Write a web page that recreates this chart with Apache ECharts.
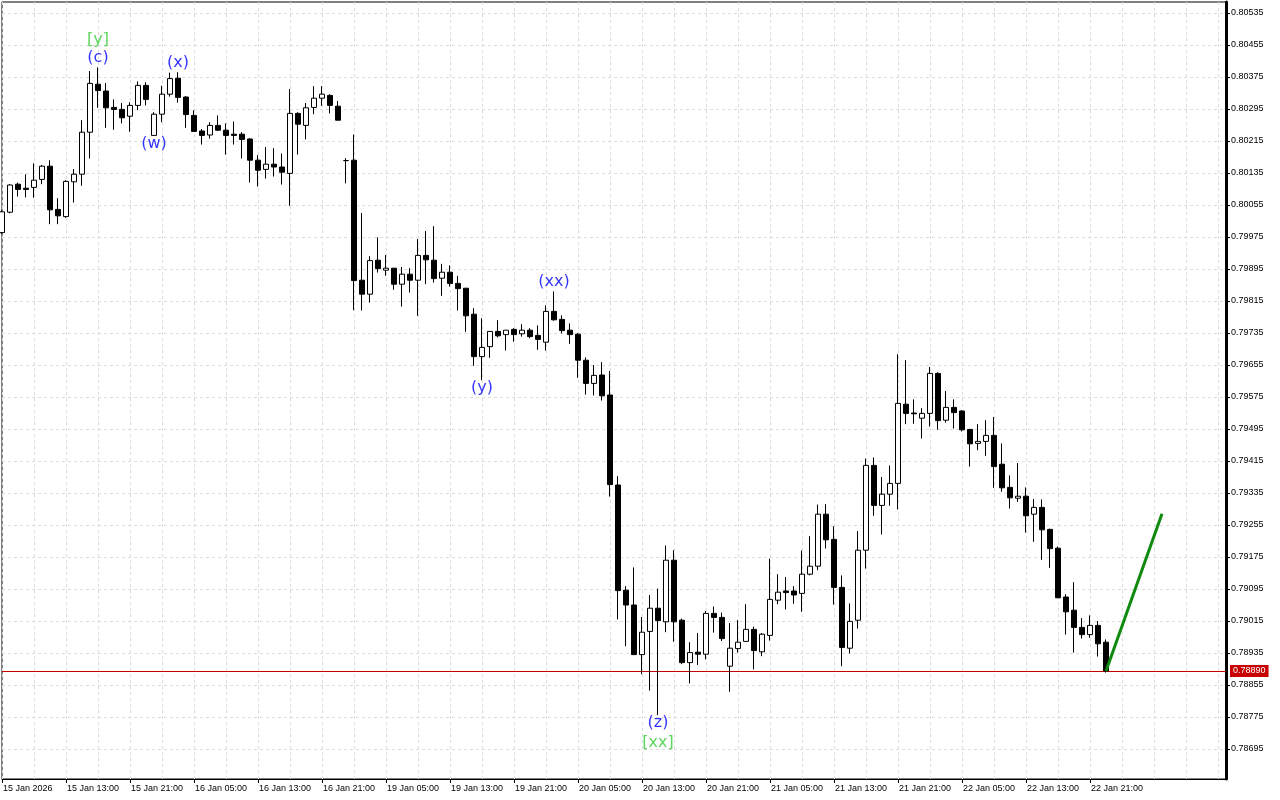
<!DOCTYPE html>
<html>
<head>
<meta charset="utf-8">
<script src="https://cdn.jsdelivr.net/npm/echarts@6/dist/echarts.min.js"></script>
<style>
html,body{margin:0;padding:0;background:#fff;}
#chart{width:1280px;height:800px;}
</style>
</head>
<body>
<div id="chart"></div>
<script>
// ---- data (hourly candles, 15 Jan 05:00 .. 22 Jan 23:00) ----
const opens = [
0.79986,0.80037,0.80107,0.80097,0.80099,0.80119,0.80152,0.80044,0.80026,0.80113,
0.80132,0.80237,0.80357,0.80340,0.80299,0.80294,0.80277,0.80304,0.80354,0.80229,
0.80282,0.80332,0.80372,0.80325,0.80279,0.80240,0.80230,0.80254,0.80242,0.80232,
0.80232,0.80220,0.80167,0.80144,0.80157,0.80150,0.80134,0.80284,0.80254,0.80299,
0.80322,0.80329,0.80302,0.80166,0.80167,0.79867,0.79832,0.79917,0.79892,0.79897,
0.79857,0.79882,0.79867,0.79929,0.79917,0.79872,0.79887,0.79859,0.79847,0.79782,
0.79676,0.79701,0.79739,0.79731,0.79744,0.79733,0.79742,0.79729,0.79712,0.79789,
0.79769,0.79742,0.79732,0.79667,0.79609,0.79630,0.79580,0.79355,0.79092,0.79055,
0.78931,0.78989,0.79047,0.79013,0.79167,0.79017,0.78911,0.78937,0.78932,0.79034,
0.79024,0.78902,0.78946,0.78964,0.78994,0.78938,0.78979,0.79067,0.79090,0.79090,
0.79084,0.79132,0.79152,0.79282,0.79219,0.79099,0.78947,0.79017,0.79192,0.79404,
0.79304,0.79332,0.79359,0.79557,0.79535,0.79522,0.79534,0.79634,0.79517,0.79549,
0.79540,0.79494,0.79459,0.79464,0.79479,0.79407,0.79349,0.79322,0.79327,0.79282,
0.79299,0.79244,0.79197,0.79075,0.79042,0.78999,0.78981,0.79004,0.78962
];
const closes = [
0.80038,0.80105,0.80094,0.80094,0.80117,0.80152,0.80043,0.80028,0.80114,0.80132,
0.80237,0.80359,0.80341,0.80298,0.80294,0.80273,0.80304,0.80354,0.80319,0.80282,
0.80332,0.80371,0.80324,0.80281,0.80239,0.80229,0.80254,0.80242,0.80229,0.80229,
0.80219,0.80167,0.80142,0.80157,0.80150,0.80137,0.80284,0.80257,0.80298,0.80322,
0.80332,0.80304,0.80267,0.80166,0.79866,0.79832,0.79916,0.79896,0.79897,0.79857,
0.79882,0.79867,0.79929,0.79918,0.79871,0.79887,0.79859,0.79846,0.79778,0.79676,
0.79699,0.79739,0.79728,0.79742,0.79731,0.79742,0.79726,0.79719,0.79789,0.79768,
0.79741,0.79731,0.79667,0.79609,0.79629,0.79578,0.79356,0.79091,0.79055,0.78931,
0.78987,0.79047,0.79016,0.79167,0.79013,0.78911,0.78936,0.78932,0.79034,0.79024,
0.78971,0.78947,0.78962,0.78994,0.78941,0.78982,0.79069,0.79087,0.79086,0.79080,
0.79132,0.79152,0.79282,0.79218,0.79099,0.78949,0.79014,0.79192,0.79404,0.79304,
0.79332,0.79359,0.79559,0.79534,0.79533,0.79534,0.79634,0.79516,0.79549,0.79536,
0.79493,0.79458,0.79464,0.79479,0.79401,0.79348,0.79323,0.79327,0.79278,0.79299,
0.79243,0.79196,0.79073,0.79038,0.78999,0.78981,0.79004,0.78958,0.78890
];
const lows = [
0.79982,0.80034,0.80076,0.80074,0.80073,0.80107,0.80007,0.80007,0.80023,0.80061,
0.80103,0.80171,0.80298,0.80248,0.80243,0.80259,0.80238,0.80292,0.80304,0.80229,
0.80262,0.80326,0.80311,0.80248,0.80239,0.80206,0.80221,0.80240,0.80181,0.80206,
0.80171,0.80111,0.80101,0.80121,0.80126,0.80106,0.80053,0.80181,0.80219,0.80282,
0.80303,0.80284,0.80267,0.80109,0.79792,0.79791,0.79811,0.79886,0.79878,0.79843,
0.79801,0.79836,0.79778,0.79857,0.79861,0.79828,0.79851,0.79791,0.79738,0.79653,
0.79617,0.79673,0.79724,0.79691,0.79713,0.79726,0.79722,0.79693,0.79691,0.79766,
0.79734,0.79708,0.79623,0.79581,0.79579,0.79566,0.79326,0.79019,0.78952,0.78931,
0.78882,0.78841,0.78780,0.78987,0.78963,0.78907,0.78859,0.78905,0.78919,0.78986,
0.78965,0.78838,0.78936,0.78964,0.78894,0.78927,0.78966,0.79057,0.79044,0.79058,
0.79038,0.79129,0.79142,0.79196,0.79056,0.78902,0.78934,0.78996,0.79146,0.79278,
0.79231,0.79303,0.79294,0.79507,0.79508,0.79471,0.79501,0.79493,0.79511,0.79496,
0.79489,0.79401,0.79442,0.79428,0.79348,0.79338,0.79296,0.79313,0.79236,0.79213,
0.79168,0.79148,0.79073,0.78981,0.78936,0.78971,0.78973,0.78926,0.78886
];
const highs = [
0.80042,0.80107,0.80111,0.80132,0.80159,0.80155,0.80167,0.80072,0.80117,0.80145,
0.80267,0.80390,0.80399,0.80360,0.80319,0.80310,0.80312,0.80364,0.80362,0.80287,
0.80353,0.80386,0.80387,0.80327,0.80292,0.80245,0.80262,0.80279,0.80259,0.80264,
0.80237,0.80222,0.80180,0.80200,0.80197,0.80184,0.80345,0.80287,0.80310,0.80352,
0.80352,0.80332,0.80315,0.80172,0.80231,0.80035,0.79927,0.79974,0.79930,0.79897,
0.79900,0.79897,0.79970,0.79990,0.80002,0.79908,0.79904,0.79878,0.79847,0.79797,
0.79772,0.79739,0.79767,0.79742,0.79747,0.79757,0.79747,0.79754,0.79804,0.79839,
0.79779,0.79759,0.79735,0.79674,0.79655,0.79662,0.79640,0.79377,0.79102,0.79149,
0.79025,0.79080,0.79096,0.79204,0.79192,0.79021,0.78962,0.78985,0.79040,0.79051,
0.79036,0.79010,0.79017,0.79057,0.79001,0.78985,0.79171,0.79132,0.79125,0.79102,
0.79191,0.79227,0.79306,0.79307,0.79252,0.79129,0.79059,0.79240,0.79421,0.79424,
0.79375,0.79404,0.79682,0.79667,0.79569,0.79547,0.79650,0.79637,0.79590,0.79569,
0.79542,0.79494,0.79507,0.79517,0.79525,0.79459,0.79379,0.79410,0.79349,0.79320,
0.79319,0.79246,0.79201,0.79082,0.79112,0.79022,0.79029,0.79015,0.78969
];
// projection line (bar index, price)
const projIndex = [138, 145];
const projPrice = [0.78890, 0.79283];
const currentPrice = 0.78890;
// wave labels
const waveText  = ['[y]', '(c)', '(x)', '(w)', '(y)', '(xx)', '(z)', '[xx]'];
const waveIndex = [12, 12, 22, 19, 60, 69, 82, 82];
const wavePrice = [0.804675, 0.804225, 0.80410, 0.802075, 0.795975, 0.798625, 0.78760, 0.78710];
const waveColor = ['#33cc33', '#0000ff', '#0000ff', '#0000ff', '#0000ff', '#0000ff', '#0000ff', '#33cc33'];
// axis ticks
const yTicks = [0.78695,0.78775,0.78855,0.78935,0.79015,0.79095,0.79175,0.79255,0.79335,0.79415,
  0.79495,0.79575,0.79655,0.79735,0.79815,0.79895,0.79975,0.80055,0.80135,0.80215,0.80295,0.80375,0.80455,0.80535];
const xTickLabels = ['15 Jan 2026','15 Jan 13:00','15 Jan 21:00','16 Jan 05:00','16 Jan 13:00','16 Jan 21:00',
  '19 Jan 05:00','19 Jan 13:00','19 Jan 21:00','20 Jan 05:00','20 Jan 13:00','20 Jan 21:00',
  '21 Jan 05:00','21 Jan 13:00','21 Jan 21:00','22 Jan 05:00','22 Jan 13:00','22 Jan 21:00'];
const tradingDays = [['15 Jan',5,23],['16 Jan',0,23],['19 Jan',0,23],['20 Jan',0,23],['21 Jan',0,23],['22 Jan',0,23],['23 Jan',0,14]];

// ---- build ----
const categories = [];
tradingDays.forEach(d => { for (let h = d[1]; h <= d[2]; h++) categories.push(d[0] + ' ' + String(h).padStart(2,'0') + ':00'); });
const candles = opens.map((o, i) => [o, closes[i], lows[i], highs[i]]);
const lastLabelIdx = (xTickLabels.length - 1) * 8;
const FONT = '"Liberation Sans", Arial, sans-serif';

const chart = echarts.init(document.getElementById('chart'), null, {renderer: 'canvas'});
chart.setOption({
  animation: false,
  backgroundColor: '#ffffff',
  grid: {left: 2, top: 2, right: 54, bottom: 21, show: true, borderColor: '#000', borderWidth: 1, backgroundColor: '#fff'},
  xAxis: {
    type: 'category', data: categories, boundaryGap: false,
    axisLine: {lineStyle: {color: '#000', width: 1}},
    axisTick: {interval: (i) => i % 8 === 0 && i <= lastLabelIdx, length: 4, lineStyle: {color: '#000'}},
    axisLabel: {
      interval: (i) => i % 8 === 0 && i <= lastLabelIdx,
      formatter: (v, i) => (i % 8 === 0 && i <= lastLabelIdx) ? xTickLabels[i / 8] : '',
      align: 'left', margin: 5, fontSize: 9, fontFamily: FONT, color: '#000', padding: [0,0,0,1]
    },
    splitLine: {show: true, interval: (i) => i % 4 === 0, lineStyle: {color: '#dcdcdc', type: [3, 3], width: 1}}
  },
  yAxis: {
    type: 'value', position: 'right', min: 0.7862, max: 0.805625, scale: true,
    axisLine: {show: true, lineStyle: {color: '#000', width: 3}},
    axisTick: {show: true, customValues: yTicks, length: 4, lineStyle: {color: '#000'}},
    axisLabel: {customValues: yTicks, formatter: (v) => v.toFixed(5), fontSize: 9, fontFamily: FONT, color: '#000', margin: 5},
    splitLine: {show: false}
  },
  series: [
    {
      type: 'line', data: [], silent: true, z: 1,
      markLine: {
        z: 1, silent: true, symbol: ['none', 'none'], animation: false, precision: 6,
        label: {show: false},
        lineStyle: {color: '#dcdcdc', type: [3, 3], width: 1},
        data: yTicks.map(v => ({yAxis: v}))
      }
    },
    {
      type: 'candlestick', data: candles, barWidth: 5, z: 3,
      itemStyle: {color: '#ffffff', color0: '#000000', borderColor: '#000000', borderColor0: '#000000', borderColorDoji: '#000000', borderWidth: 1},
      markLine: {
        z: 2, silent: true, symbol: ['none', 'none'], animation: false, precision: 6,
        lineStyle: {color: '#c80000', type: 'solid', width: 1},
        label: {show: true, position: 'end', distance: 4, formatter: currentPrice.toFixed(5), color: '#fff',
          backgroundColor: '#c80000', padding: [2, 3, 1, 3], fontSize: 9, fontFamily: FONT},
        data: [{yAxis: currentPrice}]
      }
    },
    {
      type: 'line', z: 4, symbol: 'none', silent: true,
      data: projIndex.map((k, i) => [k, projPrice[i]]),
      lineStyle: {color: '#0f8a0f', width: 3}
    },
    {
      type: 'scatter', z: 5, symbolSize: 1, silent: true,
      itemStyle: {color: 'rgba(0,0,0,0)'},
      data: waveText.map((t, i) => ({
        value: [waveIndex[i], wavePrice[i]],
        label: {show: true, position: 'inside', formatter: t, color: waveColor[i], fontSize: 16, fontFamily: '"DejaVu Sans", sans-serif'}
      }))
    }
  ]
});
</script>
</body>
</html>
